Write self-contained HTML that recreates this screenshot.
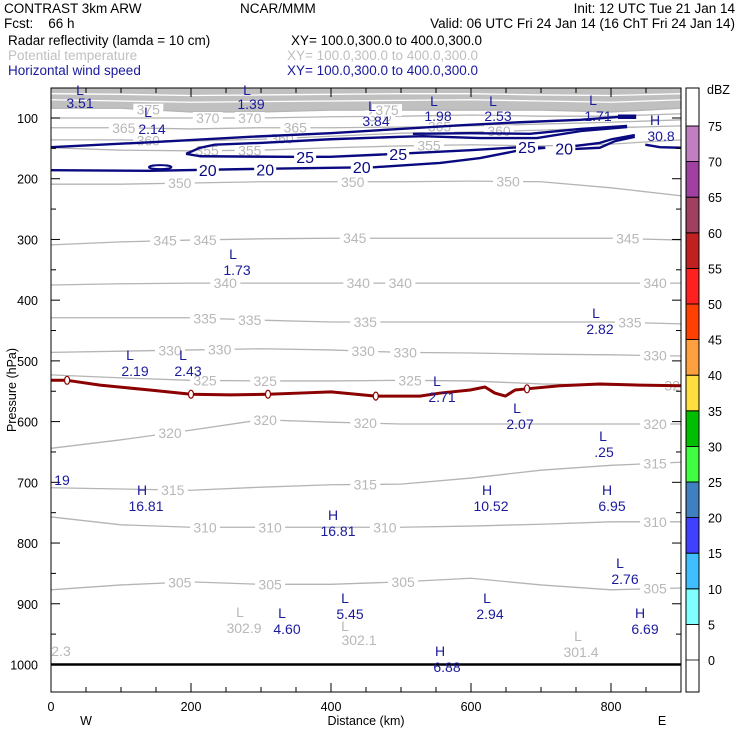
<!DOCTYPE html>
<html><head><meta charset="utf-8"><style>
html,body{margin:0;padding:0;background:#fff;}
svg{display:block;font-family:"Liberation Sans",sans-serif;}
</style></head><body>
<svg id="c" width="740" height="740" viewBox="0 0 740 740">
<g font-size="13.5">
<text x="4" y="13">CONTRAST  3km ARW</text>
<text x="240" y="13">NCAR/MMM</text>
<text x="735" y="13" text-anchor="end">Init: 12 UTC Tue 21 Jan 14</text>
<text x="4" y="28" xml:space="preserve">Fcst:    66 h</text>
<text x="735" y="28" text-anchor="end">Valid: 06 UTC Fri 24 Jan 14 (16 ChT Fri 24 Jan 14)</text>
<text x="8" y="45">Radar reflectivity (lamda = 10 cm)</text>
<text x="291" y="45">XY= 100.0,300.0 to 400.0,300.0</text>
<text x="8" y="60" fill="#c0c0c0">Potential temperature</text>
<text x="287" y="60" fill="#c0c0c0">XY= 100.0,300.0 to 400.0,300.0</text>
<text x="8" y="75" fill="#1a1a9c">Horizontal wind speed</text>
<text x="287" y="75" fill="#1a1a9c">XY= 100.0,300.0 to 400.0,300.0</text>
</g>
<g id="plot"></g>
<g font-size="14" fill="#1a1a9c" text-anchor="middle">
<text x="80" y="95">L</text><text x="80" y="108">3.51</text>
<text x="148" y="117">L</text><text x="152" y="134">2.14</text>
<text x="247" y="95">L</text><text x="251" y="109">1.39</text>
<text x="372" y="111">L</text><text x="376" y="126">3.84</text>
<text x="434" y="106">L</text><text x="438" y="121">1.98</text>
<text x="493" y="106">L</text><text x="498" y="121">2.53</text>
<text x="593" y="105">L</text><text x="598" y="121">1.71</text>
<text x="655" y="125">H</text><text x="661" y="141">30.8</text>
<text x="233" y="259">L</text><text x="237" y="275">1.73</text>
<text x="596" y="318">L</text><text x="600" y="334">2.82</text>
<text x="130" y="360">L</text><text x="135" y="376">2.19</text>
<text x="183" y="360">L</text><text x="188" y="376">2.43</text>
<text x="437" y="386">L</text><text x="442" y="402">2.71</text>
<text x="517" y="413">L</text><text x="520" y="429">2.07</text>
<text x="603" y="441">L</text><text x="604" y="457">.25</text>
<text x="62" y="485">19</text>
<text x="142" y="495">H</text><text x="146" y="511">16.81</text>
<text x="333" y="520">H</text><text x="338" y="536">16.81</text>
<text x="487" y="495">H</text><text x="491" y="511">10.52</text>
<text x="607" y="495">H</text><text x="612" y="511">6.95</text>
<text x="620" y="568">L</text><text x="625" y="584">2.76</text>
<text x="345" y="603">L</text><text x="350" y="619">5.45</text>
<text x="487" y="603">L</text><text x="490" y="619">2.94</text>
<text x="282" y="618">L</text><text x="287" y="634">4.60</text>
<text x="640" y="618">H</text><text x="645" y="634">6.69</text>
<text x="440" y="656">H</text><text x="447" y="672">6.88</text>
<g fill="#b8b8b8">
<text x="240" y="617">L</text><text x="244" y="633">302.9</text>
<text x="345" y="631">L</text><text x="359" y="645">302.1</text>
<text x="578" y="641">L</text><text x="581" y="657">301.4</text>
<text x="61" y="656">2.3</text>
</g>
</g>
</svg>
<script>
// ---- data ----
const thetaLevels=[305,310,315,320,325,330,335,340,345,350,355,360,365,370,375];
const thetaKm=[0,100,200,300,400,500,600,700,800,900];
const th305=[877,869,864,868,868,864,858,869,877,874];
const th310=[757,770,774,774,774,774,772,769,765,765];
const th315=[709,711,713,708,704,703,693,680,672,667];
const th320=[644,630,614,597,601,604,604,604,604,604];
const th325=[523,528,532,533,533,532,533,538,540,541];
const th330=[486,484,482,480,482,486,487,489,490,492];
const th335=[429,429,429,433,436,436,436,436,436,439];
const th340=[375,373,372,372,372,372,372,372,372,372];
const th345=[309,304,301,299,298,298,298,298,298,301];
const th350=[209,209,207,205,205,205,204,205,215,228];
const th355=[149,153,154,153,149,146,144,146,143,136];
const th360=[136,136,138,135,130,125,123,120,116,113];
const th365=[116,116,118,116,116,115,113,110,107,103];
const th370=[100,100,100,100,98,97,95,97,97,93];
const th375=[84,84,90,90,87,87,87,87,90,84];
const th390=[70,72,74,73,72,71,70,72,74,70];
const th400=[60,61,63,62,61,60,60,62,63,60];
const thetaLabelKm={305:[184,313,503,863],310:[220,313,477,863],315:[174,449,863],320:[170,306,449,863],325:[220,306,513,893],330:[170,241,446,506,863],335:[220,284,449,827],340:[249,439,499,863],345:[163,220,434,824],350:[184,431,653],355:[223,284,540],360:[139,330,640],365:[104,349,555],370:[224,284,470],375:[139,480]};
const wind20a=[[0,186],[141,187],[284,184],[399,182],[463,181],[556,174],[613,166],[670,153],[706,149]];
const wind25=[[193,159],[213,163],[341,164],[399,164],[513,158],[599,153],[670,148],[706,149]];
const windU0=[[0,148],[141,140],[284,131],[399,125],[499,118],[584,112],[670,107],[756,103],[813,98]];
const windU1=[[193,159],[213,149],[234,144],[299,141],[399,135],[499,131],[531,130],[613,133],[694,133],[760,121],[823,115]];
const windU3=[[517,126],[599,125],[684,126],[756,118],[823,113]];
const windR1=[[749,151],[784,149],[806,138],[834,131]];
const windR2=[[749,146],[784,141],[801,135],[834,128]];
const windR3=[[849,144],[870,148],[900,149]];
const windMax=[[810,98],[836,98]];
const windBlob=[[140,181],[172,181]];
const windLabels=[[224,186,'20'],[306,185,'20'],[444,181,'20'],[733,150,'20'],[363,164,'25'],[496,159,'25'],[680,148,'25']];
const dbzKm=[0,23,70,141,200,256,310,356,400,464,527,556,599,620,634,649,663,680,727,784,841,900];
const dbzP=[532,532,540,548,555,556,555,553,551,558,558,553,548,543,553,558,548,546,541,538,540,541];
const dbzMarkKm=[23,200,310,464,680];
const cbLevels=[5,10,15,20,25,30,35,40,45,50,55,60,65,70,75];
const cbColors=['#80ffff','#40bfff','#4040ff','#4080c0','#40ff40','#00bf00','#ffdf40','#ffa040','#ff4000','#ff2020','#c02020','#a04060','#a040a0','#c080c0'];
const cbLabels=[0,5,10,15,20,25,30,35,40,45,50,55,60,65,70,75];
const xTicks=[0,200,400,600,800];
const yTicks=[100,200,300,400,500,600,700,800,900,1000];
// ---- scales ----
const X=km=>51+km*0.7, Y=p=>118+(p-100)*0.6072, CB=v=>660-v*7.12;
const NS='http://www.w3.org/2000/svg';
const plot=document.getElementById('plot');
function mk(tag,attrs,parent){const e=document.createElementNS(NS,tag);for(const k in attrs)e.setAttribute(k,attrs[k]);(parent||plot).appendChild(e);return e;}
const clip=mk('clipPath',{id:'pc'});mk('rect',{x:51,y:88,width:630,height:604},clip);
const g=mk('g',{'clip-path':'url(#pc)'});


const thetaArr={305:th305,310:th310,315:th315,320:th320,325:th325,330:th330,335:th335,340:th340,345:th345,350:th350,355:th355,360:th360,365:th365,370:th370,375:th375};
// gray band above 375
let band='M'+X(0)+','+Y(40);
thetaKm.forEach((k,i)=>band+=' L'+X(k)+','+Y(th375[i]));
band+=' L'+X(900)+','+Y(40)+'Z';
const b=mk('path',{d:band,fill:'#c0c0c0'},g);


[th390,th400].forEach(a=>{
  const s=mk('polyline',{points:thetaKm.map((k,i)=>X(k)+','+Y(a[i])).join(' '),fill:'none',stroke:'#fff','stroke-width':1.3},g);
  
  
});
function interp(arr,km){for(let i=0;i<thetaKm.length-1;i++){if(km<=thetaKm[i+1]){const t=(km-thetaKm[i])/(thetaKm[i+1]-thetaKm[i]);return arr[i]+t*(arr[i+1]-arr[i]);}}return arr[arr.length-1];}
thetaLevels.forEach(lv=>{
  const a=thetaArr[lv];
  const pl=mk('polyline',{points:thetaKm.map((k,i)=>X(k)+','+Y(a[i])).join(' '),fill:'none',stroke:'#b4b4b4','stroke-width':1.3},g);
  
  
});
thetaLevels.forEach(lv=>{
  (thetaLabelKm[lv]||[]).forEach(k=>{
    const y=Y(interp(thetaArr[lv],k));
    mk('rect',{x:X(k)-15,y:y-6,width:30,height:12,fill:'#fff'},g);
    const t=mk('text',{x:X(k),y:y+5,'text-anchor':'middle','font-size':14,fill:'#b8b8b8'},g);
    t.textContent=lv;
    
    
  });
});
// wind contours
[wind20a,wind25,windU0,windU1,windU3,windR1,windR2,windR3].forEach((ln,i)=>{
  const pl=mk('polyline',{points:ln.map(p=>X(p[0])+','+Y(p[1])).join(' '),fill:'none',stroke:'#0a0a80','stroke-width':2.4,'stroke-linejoin':'round'},g);
  
  
});
const mx=mk('line',{x1:X(windMax[0][0]),y1:Y(windMax[0][1]),x2:X(windMax[1][0]),y2:Y(windMax[1][1]),stroke:'#0a0a80','stroke-width':4.5},g);


const bl=mk('ellipse',{cx:X((windBlob[0][0]+windBlob[1][0])/2),cy:Y(windBlob[0][1]),rx:(X(windBlob[1][0])-X(windBlob[0][0]))/2,ry:2,fill:'none',stroke:'#0a0a80','stroke-width':2},g);


windLabels.forEach(w=>{
  mk('rect',{x:X(w[0])-11,y:Y(w[1])-7,width:22,height:14,fill:'#fff'},g);
  const t=mk('text',{x:X(w[0]),y:Y(w[1])+6,'text-anchor':'middle','font-size':16,fill:'#0a0a80'},g);
  t.textContent=w[2];
  
  
});
// reflectivity contour
const rp=mk('polyline',{points:dbzKm.map((k,i)=>X(k)+','+Y(dbzP[i])).join(' '),fill:'none',stroke:'#8b0000','stroke-width':3,'stroke-linejoin':'round'},g);


dbzMarkKm.forEach(k=>{
  let i=0;while(i<dbzKm.length-1&&dbzKm[i+1]<k)i++;
  const t=(k-dbzKm[i])/(dbzKm[i+1]-dbzKm[i]);const p=dbzP[i]+t*(dbzP[i+1]-dbzP[i]);
  const e=mk('ellipse',{cx:X(k),cy:Y(p),rx:2.5,ry:4,fill:'#fff',stroke:'#8b0000','stroke-width':1.2},g);
  
  
});
// surface line
const sl=mk('line',{x1:51,y1:Y(1000),x2:681,y2:Y(1000),stroke:'#000','stroke-width':2.5},g);


// frame
const fr=mk('rect',{x:51,y:88,width:630,height:604,fill:'none',stroke:'#000','stroke-width':1});


// ticks
for(let k=0;k<=900;k+=50){const L=(k%200===0)?9:5;mk('line',{x1:X(k),y1:88,x2:X(k),y2:88+L,stroke:'#000'});mk('line',{x1:X(k),y1:692,x2:X(k),y2:692-L,stroke:'#000'});}
for(let p=100;p<=1000;p+=50){const L=(p%100===0)?9:5;mk('line',{x1:51,y1:Y(p),x2:51+L,y2:Y(p),stroke:'#000'});mk('line',{x1:681,y1:Y(p),x2:681-L,y2:Y(p),stroke:'#000'});}
yTicks.forEach(p=>{const t=mk('text',{x:38,y:Y(p)+5,'text-anchor':'end','font-size':12.5});t.textContent=p;
  
  });
xTicks.forEach(k=>{const t=mk('text',{x:X(k),y:711,'text-anchor':'middle','font-size':12.5});t.textContent=k;
  
  });
const yt=mk('text',{x:0,y:0,transform:'translate(16,390) rotate(-90)','text-anchor':'middle','font-size':12.5});yt.textContent='Pressure (hPa)';


const xt=mk('text',{x:366,y:725,'text-anchor':'middle','font-size':12.5});xt.textContent='Distance (km)';


const w=mk('text',{x:86,y:725,'text-anchor':'middle','font-size':12.5});w.textContent='W';


const e2=mk('text',{x:662,y:725,'text-anchor':'middle','font-size':12.5});e2.textContent='E';


// colorbar
cbColors.forEach((c,i)=>{const r=mk('rect',{x:686,y:CB(cbLevels[i+1]),width:13,height:CB(cbLevels[i])-CB(cbLevels[i+1]),fill:c,stroke:'#000','stroke-width':0.8});
  
  });
const cf=mk('rect',{x:686,y:88,width:13,height:604,fill:'none',stroke:'#000','stroke-width':1});


cbLabels.forEach(v=>{mk('line',{x1:686,y1:CB(v),x2:699,y2:CB(v),stroke:'#000','stroke-width':0.8});
  const t=mk('text',{x:708,y:CB(v)+5,'font-size':12.5});t.textContent=v;
  
  });
const un=mk('text',{x:707,y:94,'font-size':12.5});un.textContent='dBZ';


</script>
</body></html>
